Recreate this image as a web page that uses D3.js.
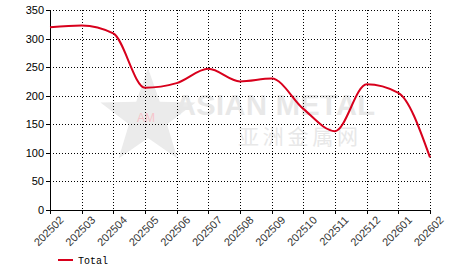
<!DOCTYPE html>
<meta charset="utf-8">
<style>
body { margin: 0; background: #fff; }
.grid line { stroke: #000; stroke-dasharray: 1,2; shape-rendering: crispEdges; }
.axis text { font: 11px Arial, "Liberation Sans", sans-serif; fill: #000; }
.axis path, .axis line { stroke: #000; shape-rendering: crispEdges; }
.line { fill: none; stroke: #d8001c; stroke-width: 2px; }
</style>
<svg width="466" height="272"></svg>
<script src="https://cdn.jsdelivr.net/npm/d3@7"></script>
<script>
var months = ["202502","202503","202504","202505","202506","202507","202508",
              "202509","202510","202511","202512","202601","202602"];
var totals = [320, 323, 309, 214, 222, 247, 225, 230, 177, 138, 220, 205, 92];
var yTicks = [0, 50, 100, 150, 200, 250, 300, 350];
var seriesName = "Total";

var svg = d3.select("svg"),
    margin = {top: 10, right: 36, bottom: 62, left: 50},
    width = 466 - margin.left - margin.right,
    height = 272 - margin.top - margin.bottom,
    g = svg.append("g").attr("transform", "translate(" + margin.left + "," + margin.top + ")");

var x = d3.scalePoint().domain(months).range([0, width]),
    y = d3.scaleLinear().domain([0, 350]).range([height, 0]);

// watermark
var wm = g.append("g");
var star = [];
for (var i = 0; i < 10; i++) {
  var r = i % 2 ? 20 : 50, a = -Math.PI / 2 + i * Math.PI / 5;
  star.push([98 + r * Math.cos(a), 108 + r * Math.sin(a)]);
}
wm.append("polygon")
    .attr("points", star.map(function(p) { return p.join(","); }).join(" "))
    .attr("fill", "#ebebeb");
wm.append("text").attr("x", 96).attr("y", 112).attr("text-anchor", "middle")
    .style("font", "12px Arial, sans-serif").attr("fill", "#f7c4ca").text("AM");
wm.append("text").attr("x", 125).attr("y", 105)
    .style("font", "bold 29px Arial, 'Liberation Sans', sans-serif")
    .attr("fill", "#e8e8e8").attr("textLength", 200).text("ASIAN METAL");
wm.append("text").attr("x", 188).attr("y", 134)
    .style("font", "21px 'Noto Sans CJK SC', sans-serif")
    .attr("fill", "#e8e8e8").attr("textLength", 120).text("亚洲金属网");

// grid
var grid = g.append("g").attr("class", "grid");
grid.selectAll(".h").data(yTicks.slice(1)).enter().append("line")
    .attr("x1", 0).attr("x2", width)
    .attr("y1", function(d) { return Math.round(y(d)) + 0.5; })
    .attr("y2", function(d) { return Math.round(y(d)) + 0.5; });
grid.selectAll(".v").data(months.slice(1)).enter().append("line")
    .attr("y1", 0).attr("y2", height)
    .attr("x1", function(d) { return Math.round(x(d)) + 0.5; })
    .attr("x2", function(d) { return Math.round(x(d)) + 0.5; });

// axes
g.append("g")
    .attr("class", "axis axis--y")
    .call(d3.axisLeft(y).tickValues(yTicks).tickSize(4).tickSizeOuter(0).tickPadding(2));

g.append("g")
    .attr("class", "axis axis--x")
    .attr("transform", "translate(0," + height + ")")
    .call(d3.axisBottom(x).tickSize(4).tickSizeOuter(0))
  .selectAll("text")
    .style("fill", "#333")
    .attr("text-anchor", "end")
    .attr("dx", "0.2em")
    .attr("dy", "0.95em")
    .attr("transform", "rotate(-45)");

// line
var line = d3.line()
    .curve(d3.curveMonotoneX)
    .x(function(d, i) { return x(months[i]); })
    .y(function(d) { return y(d); });

g.append("path")
    .datum(totals)
    .attr("class", "line")
    .attr("d", line);

// legend
var legend = svg.append("g").attr("transform", "translate(58,260)");
legend.append("line").attr("x1", 0).attr("x2", 15).attr("y1", 0).attr("y2", 0)
    .attr("stroke", "#d8001c").attr("stroke-width", 2);
legend.append("text").attr("x", 20).attr("y", 4)
    .style("font", "10px 'Liberation Mono', 'DejaVu Sans Mono', monospace")
    .attr("fill", "#000").text(seriesName);
</script>
